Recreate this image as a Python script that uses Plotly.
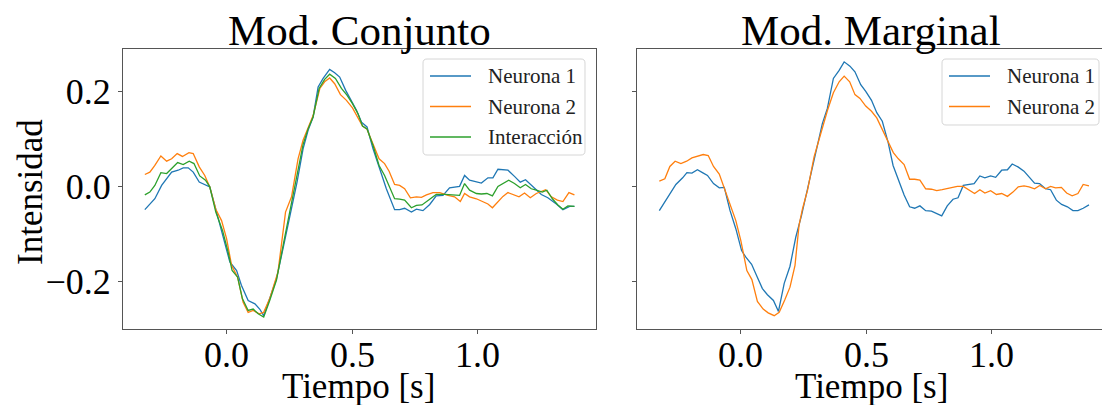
import plotly.graph_objects as go

# ---- Modelo conjunto: time stamps [s] and intensities ----
t_conj_n1 = [-0.327, -0.287, -0.26, -0.22, -0.194, -0.174, -0.154, -0.134, -0.11, -0.068,
             -0.041, -0.015, 0.012, 0.039, 0.058, 0.085, 0.112, 0.131, 0.147, 0.171,
             0.198, 0.224, 0.254, 0.28, 0.304, 0.324, 0.344, 0.364, 0.384, 0.41,
             0.43, 0.45, 0.474, 0.497, 0.517, 0.537, 0.559, 0.583, 0.607, 0.636,
             0.669, 0.689, 0.709, 0.736, 0.756, 0.782, 0.809, 0.835, 0.862, 0.888,
             0.928, 0.948, 0.968, 1.015, 1.041, 1.061, 1.081, 1.121, 1.147, 1.17,
             1.191, 1.214, 1.234, 1.254, 1.28, 1.314, 1.34, 1.367, 1.386]
v_conj_n1 = [-0.049, -0.026, 0.002, 0.030, 0.034, 0.039, 0.039, 0.030, 0.009, -0.001,
             -0.054, -0.103, -0.159, -0.177, -0.208, -0.240, -0.247, -0.258, -0.272, -0.236,
             -0.194, -0.131, -0.054, 0.009, 0.079, 0.118, 0.146, 0.209, 0.227, 0.246,
             0.239, 0.230, 0.202, 0.181, 0.160, 0.135, 0.125, 0.079, 0.041, -0.005,
             -0.049, -0.049, -0.046, -0.054, -0.048, -0.051, -0.038, -0.020, -0.019, -0.003,
             0.000, 0.023, 0.013, 0.007, 0.018, 0.018, 0.036, 0.034, 0.021, 0.009,
             0.014, 0.002, -0.008, -0.017, -0.024, -0.037, -0.049, -0.042, -0.042]

t_conj_n2 = [-0.327, -0.307, -0.287, -0.263, -0.24, -0.22, -0.198, -0.177, -0.151, -0.134,
             -0.11, -0.088, -0.068, -0.044, -0.021, -0.001, 0.019, 0.043, 0.065, 0.085,
             0.105, 0.129, 0.147, 0.171, 0.204, 0.234, 0.258, 0.284, 0.304, 0.344,
             0.371, 0.39, 0.41, 0.43, 0.453, 0.477, 0.501, 0.521, 0.541, 0.559,
             0.583, 0.607, 0.629, 0.647, 0.669, 0.689, 0.709, 0.732, 0.756, 0.776,
             0.796, 0.822, 0.849, 0.882, 0.908, 0.931, 0.948, 0.968, 0.995, 1.021,
             1.041, 1.059, 1.081, 1.101, 1.121, 1.143, 1.165, 1.187, 1.21, 1.234,
             1.271, 1.294, 1.318, 1.34, 1.364, 1.386]
v_conj_n2 = [0.025, 0.030, 0.044, 0.064, 0.053, 0.058, 0.069, 0.063, 0.071, 0.069,
             0.041, 0.023, -0.001, -0.048, -0.072, -0.110, -0.166, -0.191, -0.244, -0.265,
             -0.261, -0.268, -0.265, -0.236, -0.180, -0.054, -0.022, 0.058, 0.097, 0.149,
             0.206, 0.220, 0.228, 0.216, 0.193, 0.181, 0.165, 0.147, 0.127, 0.120,
             0.088, 0.058, 0.048, 0.032, 0.004, 0.002, -0.005, -0.024, -0.022, -0.023,
             -0.018, -0.013, -0.013, -0.019, -0.022, -0.032, -0.015, -0.022, -0.026, -0.033,
             -0.037, -0.045, -0.033, -0.021, -0.013, -0.018, -0.022, -0.014, -0.024, -0.015,
             -0.007, -0.022, -0.029, -0.032, -0.013, -0.018]

t_conj_int = [-0.327, -0.307, -0.287, -0.263, -0.24, -0.218, -0.196, -0.174, -0.15, -0.131,
              -0.108, -0.085, -0.068, -0.044, -0.017, 0.005, 0.021, 0.043, 0.062, 0.085,
              0.105, 0.125, 0.147, 0.171, 0.198, 0.227, 0.254, 0.28, 0.304, 0.324,
              0.344, 0.368, 0.39, 0.41, 0.433, 0.457, 0.479, 0.501, 0.523, 0.541,
              0.559, 0.583, 0.607, 0.629, 0.649, 0.669, 0.689, 0.709, 0.736, 0.756,
              0.778, 0.809, 0.835, 0.869, 0.902, 0.928, 0.948, 0.968, 0.995, 1.015,
              1.037, 1.059, 1.081, 1.104, 1.124, 1.147, 1.17, 1.191, 1.214, 1.234,
              1.258, 1.276, 1.298, 1.32, 1.34, 1.36, 1.386]
v_conj_int = [-0.018, -0.012, 0.002, 0.029, 0.027, 0.039, 0.050, 0.046, 0.053, 0.048,
              0.022, 0.013, -0.001, -0.054, -0.093, -0.138, -0.177, -0.191, -0.236, -0.261,
              -0.258, -0.268, -0.275, -0.240, -0.197, -0.117, -0.045, 0.020, 0.088, 0.121,
              0.146, 0.206, 0.225, 0.236, 0.227, 0.206, 0.192, 0.174, 0.153, 0.127,
              0.121, 0.086, 0.044, 0.023, -0.001, -0.026, -0.027, -0.029, -0.045, -0.040,
              -0.039, -0.027, -0.017, -0.017, -0.018, -0.019, 0.006, -0.008, -0.015, -0.016,
              -0.015, -0.020, 0.000, 0.007, 0.013, 0.006, -0.003, 0.004, -0.005, -0.008,
              -0.012, -0.008, -0.026, -0.039, -0.048, -0.041, -0.042]

# ---- Modelo marginal ----
t_marg_n1 = [-0.325, -0.292, -0.259, -0.232, -0.215, -0.195, -0.173, -0.153, -0.133, -0.109,
             -0.086, -0.066, -0.043, -0.020, 0.003, 0.020, 0.043, 0.064, 0.086, 0.106,
             0.130, 0.150, 0.173, 0.196, 0.219, 0.242, 0.266, 0.299, 0.325, 0.345,
             0.369, 0.392, 0.412, 0.435, 0.455, 0.478, 0.498, 0.521, 0.542, 0.564,
             0.587, 0.607, 0.631, 0.651, 0.673, 0.693, 0.714, 0.737, 0.760, 0.781,
             0.801, 0.823, 0.846, 0.866, 0.887, 0.930, 0.953, 0.973, 0.996, 1.016,
             1.040, 1.063, 1.082, 1.105, 1.129, 1.149, 1.171, 1.191, 1.215, 1.235,
             1.258, 1.279, 1.302, 1.324, 1.344, 1.365, 1.388]
v_marg_n1 = [-0.051, -0.022, 0.004, 0.018, 0.029, 0.028, 0.035, 0.029, 0.023, 0.006,
             -0.003, -0.002, -0.051, -0.089, -0.135, -0.149, -0.164, -0.189, -0.215, -0.228,
             -0.240, -0.263, -0.204, -0.168, -0.107, -0.061, -0.005, 0.072, 0.132, 0.164,
             0.227, 0.244, 0.262, 0.253, 0.241, 0.214, 0.200, 0.181, 0.155, 0.137,
             0.093, 0.044, 0.009, -0.018, -0.043, -0.046, -0.041, -0.051, -0.052, -0.057,
             -0.062, -0.041, -0.027, -0.024, 0.002, 0.006, 0.022, 0.018, 0.022, 0.019,
             0.034, 0.035, 0.047, 0.041, 0.032, 0.020, 0.007, 0.006, -0.005, -0.007,
             -0.029, -0.038, -0.043, -0.051, -0.051, -0.046, -0.039]

t_marg_n2 = [-0.325, -0.303, -0.283, -0.262, -0.239, -0.216, -0.195, -0.173, -0.150, -0.130,
             -0.109, -0.086, -0.066, -0.043, -0.020, 0.000, 0.024, 0.044, 0.066, 0.089,
             0.109, 0.133, 0.153, 0.175, 0.196, 0.216, 0.232, 0.246, 0.266, 0.292,
             0.319, 0.345, 0.369, 0.392, 0.412, 0.434, 0.455, 0.475, 0.498, 0.521,
             0.542, 0.564, 0.587, 0.608, 0.628, 0.651, 0.673, 0.693, 0.714, 0.737,
             0.760, 0.781, 0.803, 0.823, 0.863, 0.887, 0.910, 0.932, 0.953, 0.973,
             0.996, 1.019, 1.040, 1.063, 1.085, 1.106, 1.129, 1.149, 1.171, 1.192,
             1.215, 1.235, 1.255, 1.278, 1.299, 1.321, 1.344, 1.365, 1.388]
v_marg_n2 = [0.011, 0.016, 0.042, 0.053, 0.048, 0.053, 0.060, 0.063, 0.067, 0.065,
             0.042, 0.026, -0.003, -0.040, -0.072, -0.114, -0.177, -0.196, -0.242, -0.258,
             -0.266, -0.272, -0.265, -0.239, -0.212, -0.166, -0.082, -0.047, -0.008, 0.062,
             0.114, 0.159, 0.197, 0.220, 0.232, 0.220, 0.193, 0.185, 0.169, 0.158,
             0.144, 0.120, 0.095, 0.071, 0.058, 0.046, 0.015, 0.015, 0.013, -0.005,
             -0.006, -0.009, -0.007, -0.005, 0.000, 0.000, -0.008, -0.015, -0.007, -0.014,
             -0.009, -0.017, -0.015, -0.021, -0.012, -0.001, 0.001, -0.001, -0.005, 0.002,
             -0.005, 0.000, -0.003, -0.002, -0.014, -0.020, -0.015, 0.004, 0.001]

x_ticks = [0.0, 0.5, 1.0]
x_ticktext = ["0.0", "0.5", "1.0"]
y_ticks = [-0.2, 0.0, 0.2]
y_ticktext = ["\u22120.2", "0.0", "0.2"]

BLUE, ORANGE, GREEN = "#1f77b4", "#ff7f0e", "#2ca02c"
FONT = "Liberation Serif"
W, H = 1102, 405

fig = go.Figure()

def line(t, v, name, color, xa, ya):
    fig.add_trace(go.Scatter(
        x=t, y=v, mode="lines", name=name, xaxis=xa, yaxis=ya,
        line=dict(color=color, width=1.3), showlegend=False,
    ))

left_series = [(t_conj_n1, v_conj_n1, "Neurona 1", BLUE),
               (t_conj_n2, v_conj_n2, "Neurona 2", ORANGE),
               (t_conj_int, v_conj_int, "Interacción", GREEN)]
right_series = [(t_marg_n1, v_marg_n1, "Neurona 1", BLUE),
                (t_marg_n2, v_marg_n2, "Neurona 2", ORANGE)]

for t, v, name, c in left_series:
    line(t, v, name, c, "x", "y")
for t, v, name, c in right_series:
    line(t, v, name, c, "x2", "y2")

frame = "#555555"
axis_common = dict(
    showgrid=False, zeroline=False, showline=True, linecolor=frame, linewidth=1,
    ticks="outside", ticklen=4, tickwidth=1, tickcolor=frame,
    tickfont=dict(family=FONT, size=36, color="black"),
)
y_dom = [1 - 329 / H, 1 - 49 / H]
y_rng = [-0.300, 0.289]

fig.update_layout(
    width=W, height=H, autosize=False,
    margin=dict(l=0, r=0, t=0, b=0),
    paper_bgcolor="white", plot_bgcolor="white",
    xaxis=dict(domain=[123 / W, 596 / W], range=[-0.414, 1.472], mirror=True,
               tickvals=x_ticks, ticktext=["", "", ""], anchor="y", **axis_common),
    yaxis=dict(domain=y_dom, range=y_rng, mirror=True,
               tickvals=y_ticks, ticktext=y_ticktext, anchor="x", **axis_common),
    xaxis2=dict(domain=[637 / W, 1.0], range=[-0.414, 1.440], mirror=True,
                tickvals=x_ticks, ticktext=["", "", ""], anchor="y2", **axis_common),
    yaxis2=dict(domain=y_dom, range=y_rng, mirror=False,
                tickvals=y_ticks, ticktext=["", "", ""], anchor="x2", **axis_common),
    showlegend=False,
)

def text(x, y, s, size, angle=0, xanchor="center", color="black"):
    fig.add_annotation(x=x / W, y=1 - y / H, xref="paper", yref="paper", text=s,
                       showarrow=False, textangle=angle,
                       font=dict(family=FONT, size=size, color=color),
                       xanchor=xanchor, yanchor="middle")

# x tick labels, placed on the data axes just below each frame
for xref in ("x", "x2"):
    for val, lab in zip(x_ticks, x_ticktext):
        fig.add_annotation(x=val, xref=xref, y=1 - 355 / H, yref="paper", text=lab,
                           showarrow=False, font=dict(family=FONT, size=36, color="black"),
                           xanchor="center", yanchor="middle")

text(359, 31, "Mod. Conjunto", 43)
text(871, 31, "Mod. Marginal", 43)
text(358, 386, "Tiempo [s]", 35)
text(871, 386, "Tiempo [s]", 35)
text(30, 192, "Intensidad", 35, angle=-90)


def legend_box(x0, x1, y0, y1, entries, text_x):
    r = 4
    path = (f"M {x0 + r},{y0} L {x1 - r},{y0} Q {x1},{y0} {x1},{y0 + r} "
            f"L {x1},{y1 - r} Q {x1},{y1} {x1 - r},{y1} L {x0 + r},{y1} "
            f"Q {x0},{y1} {x0},{y1 - r} L {x0},{y0 + r} Q {x0},{y0} {x0 + r},{y0} Z")
    # convert pixel path to paper fractions
    import re
    def conv(m):
        px, py = float(m.group(1)), float(m.group(2))
        return f"{px / W:.5f},{1 - py / H:.5f}"
    path = re.sub(r"([\d.]+),([\d.]+)", conv, path)
    fig.add_shape(type="path", path=path, xref="paper", yref="paper",
                  fillcolor="rgba(255,255,255,0.8)", line=dict(color="#d6d6d6", width=1),
                  layer="above")
    for i, (_, _, name, color) in enumerate(entries):
        yy = 76 + i * 30.5
        fig.add_shape(type="line", xref="paper", yref="paper",
                      x0=(x0 + 7) / W, x1=(x0 + 48) / W, y0=1 - yy / H, y1=1 - yy / H,
                      line=dict(color=color, width=1.3), layer="above")
        text(text_x, yy, name, 21, xanchor="left", color="#222222")


legend_box(423, 585, 59, 155, left_series, 486)
legend_box(942, 1099, 59, 125, right_series, 1005)

fig.write_html("out.html")
